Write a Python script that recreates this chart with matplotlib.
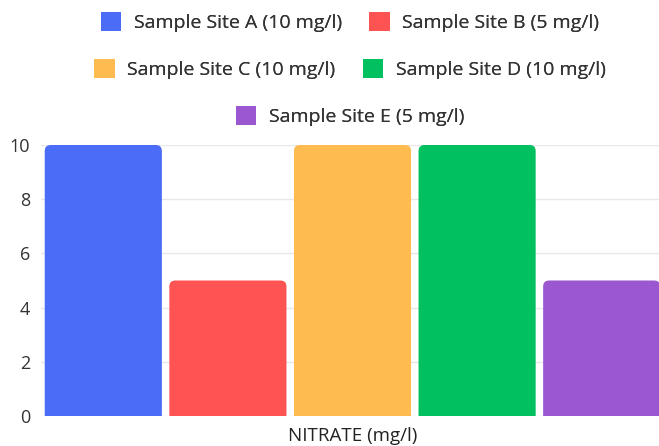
import matplotlib
matplotlib.use("Agg")
import matplotlib.pyplot as plt
from matplotlib.patches import FancyBboxPatch, Patch

plt.rcParams['font.family'] = ['Open Sans', 'DejaVu Sans']

sites = ["Sample Site A (10 mg/l)", "Sample Site B (5 mg/l)", "Sample Site C (10 mg/l)",
         "Sample Site D (10 mg/l)", "Sample Site E (5 mg/l)"]
nitrate = [10, 5, 10, 10, 5]
colors = ["#4a6cf7", "#fe5353", "#fdbb50", "#00c060", "#9b57d0"]
yticks = [0, 2, 4, 6, 8, 10]
xlabel = "NITRATE (mg/l)"

W, H = 659, 446
fig = plt.figure(figsize=(W / 100, H / 100), dpi=100)
ax = fig.add_axes([41 / W, 30 / H, 623 / W, 271 / H])

positions = list(range(len(nitrate)))
bars = ax.bar(positions, nitrate, width=0.94, color=colors)
ax.set_xlim(-0.5, 4.5)
ax.set_ylim(0, 10)

# replace square bars with versions that have rounded top corners
fig.canvas.draw()
bbox = ax.get_window_extent()
px_x = (ax.get_xlim()[1] - ax.get_xlim()[0]) / bbox.width
px_y = (ax.get_ylim()[1] - ax.get_ylim()[0]) / bbox.height
r_px = 6
for b in bars:
    x, w, h = b.get_x(), b.get_width(), b.get_height()
    b.set_visible(False)
    ext = r_px * 2 * px_y
    p = FancyBboxPatch((x, -ext), w, h + ext,
                       boxstyle=f"round,pad=0,rounding_size={r_px * px_x}",
                       mutation_aspect=px_y / px_x,
                       facecolor=b.get_facecolor(), edgecolor="none", zorder=2,
                       clip_on=True)
    ax.add_patch(p)

ax.set_yticks(yticks)
ax.set_xticks([])
ax.yaxis.grid(True, color="#e8e8e8", linewidth=1)
ax.set_axisbelow(True)
for s in ax.spines.values():
    s.set_visible(False)
ax.tick_params(axis="y", length=0, pad=8, labelsize=13, labelcolor="#333333")
ax.set_xlabel(xlabel, fontsize=13.5, color="#222222", labelpad=8)

handles = [Patch(facecolor=c, edgecolor="none") for c in colors]
rows = [(0, 2, 424), (2, 4, 377), (4, 5, 330)]
for start, stop, ypix in rows:
    leg = fig.legend(handles[start:stop], sites[start:stop], ncol=stop - start,
                     loc="center", bbox_to_anchor=(350 / W, ypix / H),
                     frameon=False, fontsize=14, handlelength=1.05, handleheight=1.15,
                     handletextpad=0.65, columnspacing=1.4, labelcolor="#333333",
                     borderpad=0, borderaxespad=0)
    fig.add_artist(leg)

fig.savefig("out.png", dpi=100, facecolor="white")
